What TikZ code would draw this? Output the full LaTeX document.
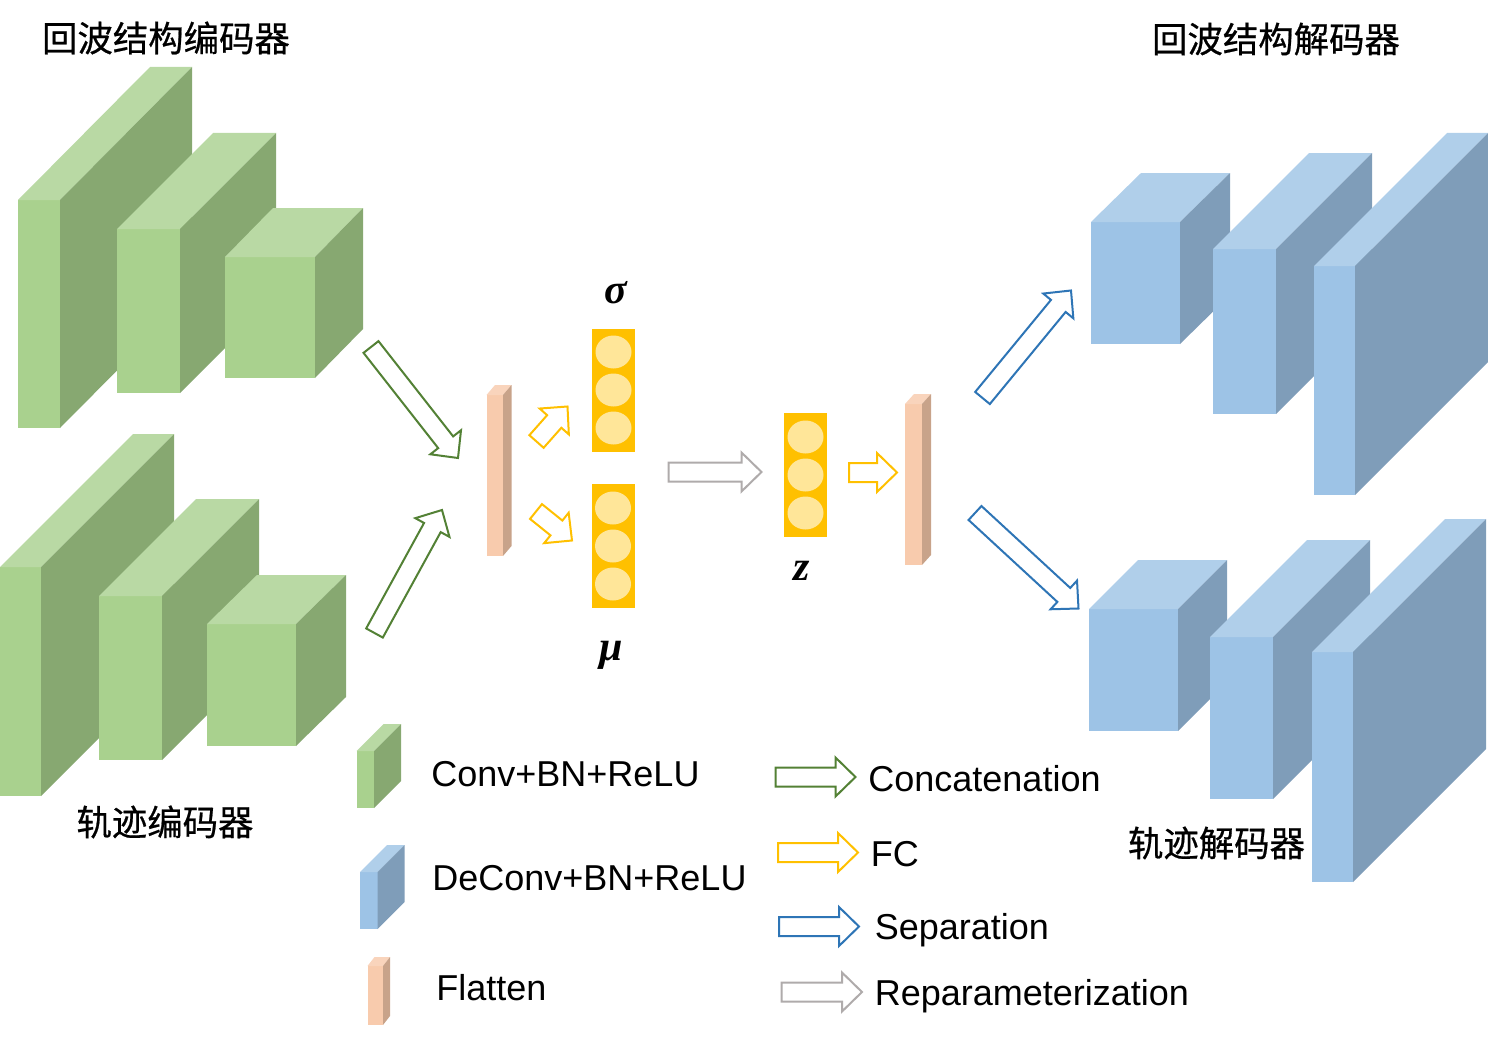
\documentclass[tikz,border=0pt]{standalone}
\usepackage{amsmath,amssymb}
\usepackage{fontspec}
\setmainfont{Liberation Sans}
\newfontfamily\cjk[FakeBold=0.6]{Noto Sans CJK SC}
\newfontfamily\symfont{Liberation Serif}
\usepackage{tikz}
\usetikzlibrary{positioning,calc,shapes.geometric}

\definecolor{gfront}{HTML}{A9D18E}
\definecolor{gtop}{HTML}{B9D9A4}
\definecolor{gside}{HTML}{87A871}
\definecolor{bfront}{HTML}{9DC3E6}
\definecolor{btop}{HTML}{B0CFEA}
\definecolor{bside}{HTML}{7F9DB9}
\definecolor{pfront}{HTML}{F8CBAD}
\definecolor{ptop}{HTML}{F9D4BC}
\definecolor{pside}{HTML}{C8A38A}
\definecolor{fcyellow}{HTML}{FFC000}
\definecolor{fclight}{HTML}{FFE699}
\definecolor{catgreen}{HTML}{538135}
\definecolor{sepblue}{HTML}{2E75B6}
\definecolor{repgray}{HTML}{AFABAB}

% left, top, width, height, depth x, depth y, colour prefix
\newcommand{\layerblock}[7]{%
  \fill[#7front] (#1,#2) rectangle ++(#3,#4);
  \fill[#7top] (#1,#2) -- ++(#5,-#6) -- ++(#3,0) -- ++(-#5,#6) -- cycle;
  \fill[#7side] (#1+#3,#2) -- ++(#5,-#6) -- ++(0,#4) -- ++(-#5,#6) -- cycle;
}

% style, tail, tip
\newcommand{\hollowarrow}[3]{%
  \coordinate (hb) at ($(#3)!10pt!(#2)$);
  \draw[#1] ($(#2)!4.75pt!90:(#3)$) -- ($(hb)!4.75pt!90:(#3)$)
    -- ($(hb)!9.75pt!90:(#3)$) -- (#3) -- ($(hb)!9.75pt!-90:(#3)$)
    -- ($(hb)!4.75pt!-90:(#3)$) -- ($(#2)!4.75pt!-90:(#3)$) -- cycle;
}

\begin{document}
\begin{tikzpicture}[x=0.5pt,y=-0.5pt,
  cjktext/.style={font=\cjk\fontsize{17.7}{20}\selectfont,inner sep=0},
  legtext/.style={font=\fontsize{18}{21}\selectfont,anchor=base west,inner sep=0},
  mlabel/.style={font=\symfont\bfseries\itshape\fontsize{21}{24}\selectfont,inner sep=0},
  fcbox/.style={rectangle,fill=fcyellow,minimum width=21.5pt,inner sep=0},
  unit/.style={ellipse,fill=fclight,minimum width=18pt,minimum height=16.5pt,inner sep=0},
  hollow/.style={fill=white,line width=1pt,line join=miter}]

  \useasboundingbox (0,0) rectangle (1488,1038);

  % encoders
  \layerblock{18}{200}{42}{228}{132}{133}{g}
  \layerblock{117}{229}{63}{164}{96}{96}{g}
  \layerblock{225}{257}{90}{121}{48}{49}{g}

  \layerblock{0}{567}{41}{229}{133}{133}{g}
  \layerblock{99}{596}{63}{164}{97}{97}{g}
  \layerblock{207}{624}{89}{122}{50}{49}{g}

  \node[cjktext] (echoenc) at (166,38) {回波结构编码器};
  \node[cjktext] (trajenc) at (165,822) {轨迹编码器};

  % decoders
  \layerblock{1091}{222}{89}{122}{50}{49}{b}
  \layerblock{1213}{249}{63}{165}{96}{96}{b}
  \layerblock{1314}{266}{41}{229}{133}{133}{b}

  \layerblock{1089}{609}{89}{122}{49}{49}{b}
  \layerblock{1210}{637}{63}{162}{97}{97}{b}
  \layerblock{1312}{652}{41}{230}{133}{133}{b}

  \node[cjktext] (echodec) at (1276,39) {回波结构解码器};
  \node[cjktext] (trajdec) at (1216.5,843) {轨迹解码器};

  % flatten
  \layerblock{486.5}{395}{16.5}{161}{8.5}{10}{p}
  \layerblock{905}{404}{17}{161}{9}{10}{p}

  % latent
  \node[fcbox,minimum height=61.5pt] (sigma) at (613.5,390.5) {};
  \node[unit] (s1) at (613.5,352) {};
  \node[unit] (s2) at (613.5,390) {};
  \node[unit] (s3) at (613.5,428) {};
  \node[mlabel] (lsigma) at (616,293) {σ};

  \node[fcbox,minimum height=62pt] (mu) at (613,546) {};
  \node[unit] (m1) at (613,508) {};
  \node[unit] (m2) at (613,546) {};
  \node[unit] (m3) at (613,584) {};
  \node[mlabel] (lmu) at (611,655) {μ};

  \node[fcbox,minimum height=62pt] (z) at (805.5,475) {};
  \node[unit] (z1) at (805.5,437) {};
  \node[unit] (z2) at (805.5,475) {};
  \node[unit] (z3) at (805.5,513) {};
  \node[mlabel] (lz) at (802,571) {z};

  % arrows
  \coordinate (cat1s) at (371,347);
  \coordinate (cat1e) at (458,458);
  \coordinate (cat2s) at (374.5,633);
  \coordinate (cat2e) at (442,510);
  \coordinate (fc1s) at (536.5,441.5);
  \coordinate (fc1e) at (567.5,406.5);
  \coordinate (fc2s) at (536,511.5);
  \coordinate (fc2e) at (572,540.5);
  \coordinate (reps) at (668.5,472);
  \coordinate (repe) at (761.5,472);
  \coordinate (fc3s) at (849,472.5);
  \coordinate (fc3e) at (897,472.5);
  \coordinate (sep1s) at (982.5,398);
  \coordinate (sep1e) at (1071,290.5);
  \coordinate (sep2s) at (975,513);
  \coordinate (sep2e) at (1078.5,608.5);

  \hollowarrow{hollow,draw=catgreen}{cat1s}{cat1e}
  \hollowarrow{hollow,draw=catgreen}{cat2s}{cat2e}
  \hollowarrow{hollow,draw=fcyellow}{fc1s}{fc1e}
  \hollowarrow{hollow,draw=fcyellow}{fc2s}{fc2e}
  \hollowarrow{hollow,draw=repgray}{reps}{repe}
  \hollowarrow{hollow,draw=fcyellow}{fc3s}{fc3e}
  \hollowarrow{hollow,draw=sepblue}{sep1s}{sep1e}
  \hollowarrow{hollow,draw=sepblue}{sep2s}{sep2e}

  % legend
  \layerblock{356.5}{751}{17.5}{57}{27}{27}{g}
  \layerblock{360}{872}{17.5}{57}{27}{27}{b}
  \layerblock{367.5}{966}{15.5}{59}{7}{9}{p}

  \node[legtext] (lconv) at (431,786) {Conv+BN+ReLU};
  \node[legtext] (ldeconv) at (432,890) {DeConv+BN+ReLU};
  \node[legtext] (lflat) at (436,1000) {Flatten};

  \coordinate (lcats) at (775.5,777);
  \coordinate (lcate) at (855.5,777);
  \coordinate (lfcs) at (778,852.5);
  \coordinate (lfce) at (858,852.5);
  \coordinate (lseps) at (779,926.5);
  \coordinate (lsepe) at (859,926.5);
  \coordinate (lreps) at (781.5,992);
  \coordinate (lrepe) at (862,992);

  \hollowarrow{hollow,draw=catgreen}{lcats}{lcate}
  \hollowarrow{hollow,draw=fcyellow}{lfcs}{lfce}
  \hollowarrow{hollow,draw=sepblue}{lseps}{lsepe}
  \hollowarrow{hollow,draw=repgray}{lreps}{lrepe}

  \node[legtext] (lcat) at (868,791) {Concatenation};
  \node[legtext] (lfc) at (870.5,866) {FC};
  \node[legtext] (lsep) at (874.5,939) {Separation};
  \node[legtext] (lrep) at (874.5,1005) {Reparameterization};

\end{tikzpicture}
\end{document}
